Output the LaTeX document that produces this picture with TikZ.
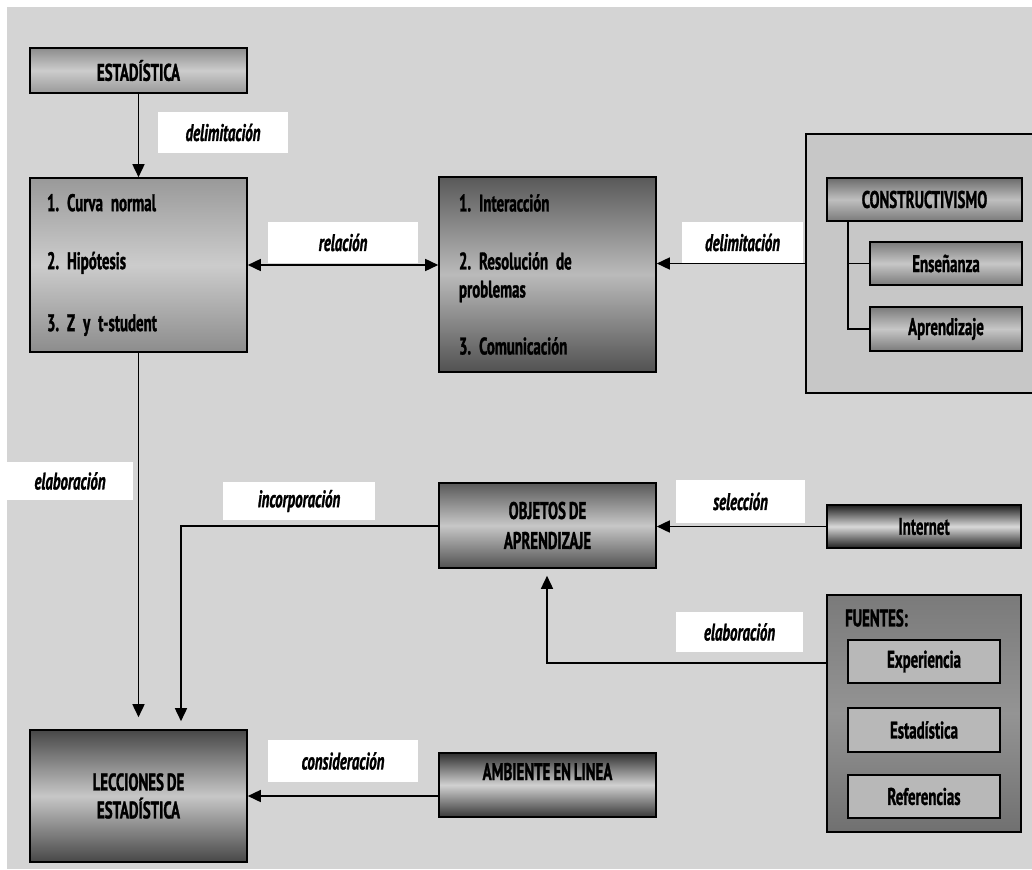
\documentclass[tikz,border=0pt]{standalone}
\usepackage{fontspec}
\newfontfamily\condfont{PT Sans}[FakeStretch=0.62, WordSpace=0.8, BoldFeatures={FakeBold=1.2}, BoldItalicFeatures={FakeBold=1.2}]
\usepackage{tikz}
\usetikzlibrary{shapes,arrows.meta}
\frenchspacing

\begin{document}
\begin{tikzpicture}[x=1pt, y=-1pt,
    txt/.style={font=\condfont\bfseries\fontsize{24}{28}\selectfont},
    lbl/.style={font=\condfont\bfseries\itshape\fontsize{24}{28}\selectfont, fill=white, inner sep=0pt},
    grad/.style n args={3}{top color=#1, bottom color=#3, middle color=#2},
    box/.style={txt, draw=black, line width=1.6pt, inner sep=0pt, align=center},
    conn/.style={line width=1.6pt},
    arr/.style={conn, -{Triangle[length=13pt, width=12pt]}},
    dblarr/.style={conn, {Triangle[length=13pt, width=12pt]}-{Triangle[length=13pt, width=12pt]}}]
  % Sizes
  \pgfmathsetmacro{\boxw}{217}
  \pgfmathsetmacro{\smallw}{152}

  % background
  \useasboundingbox (0,0) rectangle (1032,869);
  \fill[white] (0,0) rectangle (1032,869);
  \fill[black!17] (7,7) rectangle (1032,869);

  % boxes
  \node[box, grad={black!45}{black!20}{black!40}, minimum width=\boxw pt, minimum height=45pt] (estad) at (138.5,70.5) {ESTADÍSTICA};
  \node[box, grad={black!40}{black!20}{black!45}, minimum width=\boxw pt, minimum height=174pt,
        text width=183pt, align=left] (stat) at (138.5,265)
        {1. Curva normal\\[30pt]2. Hipótesis\\[34pt]3. Z y t-student};
  \node[box, grad={black!65}{black!27}{black!68}, minimum width=\boxw pt, minimum height=195pt,
        text width=177pt, align=left] (cons) at (547.5,274.5)
        {1. Interacción\\[30pt]2. Resolución de\\problemas\\[29pt]3. Comunicación};

  \node[draw, line width=1.2pt, fill=black!22, minimum width=230pt, minimum height=259pt, inner sep=0pt] (cpanel) at (921,263.5) {};
  \node[box, grad={black!58}{black!25}{black!52}, minimum width=195pt, minimum height=43pt] (constr) at (924.5,199.5) {CONSTRUCTIVISMO};
  \node[box, grad={black!52}{black!22}{black!52}, minimum width=\smallw pt, minimum height=43pt] (ens) at (946,263.5) {Enseñanza};
  \node[box, grad={black!52}{black!22}{black!52}, minimum width=\smallw pt, minimum height=44pt] (apr) at (946,329) {Aprendizaje};
  \coordinate (tree) at (848,221);

  \node[box, grad={black!65}{black!22}{black!68}, minimum width=\boxw pt, minimum height=85pt] (objs) at (547.5,525.5) {OBJETOS DE\\[2pt]APRENDIZAJE};
  \node[box, grad={black!88}{black!15}{black!88}, minimum width=194pt, minimum height=43pt] (inet) at (924,526.5) {Internet};

  \node[draw, line width=1.6pt, grad={black!52}{black!42}{black!56}, minimum width=194pt, minimum height=237pt, inner sep=0pt] (fpanel) at (924,713.5) {};
  \node[txt, anchor=west, inner sep=0pt] (ftit) at (845,618) {FUENTES:};
  \node[box, fill=black!28, line width=1.4pt, minimum width=\smallw pt, minimum height=43pt] (fexp) at (924,661.5) {Experiencia};
  \node[box, fill=black!28, line width=1.4pt, minimum width=\smallw pt, minimum height=44pt] (fest) at (924,730) {Estadística};
  \node[box, fill=black!28, line width=1.4pt, minimum width=\smallw pt, minimum height=43pt] (fref) at (924,796.5) {Referencias};

  \node[box, grad={black!82}{black!18}{black!78}, minimum width=\boxw pt, minimum height=64pt,
        inner ysep=10pt, text height=17pt, text depth=27pt] (amb) at (547.5,785) {AMBIENTE EN LINEA};
  \node[box, grad={black!72}{black!22}{black!72}, minimum width=\boxw pt, minimum height=132pt] (lecc) at (138.5,796) {LECCIONES DE\\ESTADÍSTICA};

  % connectors
  \coordinate (incp) at (181,526);
  \coordinate (elab) at (547,663);
  \draw[arr] (estad.south) -- (stat.north);
  \draw[dblarr] (stat.east) -- (stat.east -| cons.west);
  \draw[arr] (cpanel.west) -- (cpanel.west -| cons.east);
  \draw[conn] (tree) |- (apr.west);
  \draw[conn] (tree |- ens.west) -- (ens.west);
  \draw[arr, shorten >=12pt] (stat.south) -- (lecc.north);
  \draw[arr, shorten >=8pt] (objs.west |- incp) -- (incp) -- (incp |- lecc.north);
  \draw[arr] (inet.west) -- (inet.west -| objs.east);
  \draw[arr, shorten >=7pt] (fpanel.west |- elab) -- (elab) -- (elab |- objs.south);
  \draw[arr] (lecc.east -| amb.west) -- (lecc.east);

  % labels
  \node[lbl, minimum width=130pt, minimum height=41pt] (ldel) at (223,132.5) {delimitación};
  \node[lbl, minimum width=150pt, minimum height=41pt] (lrel) at (343,242.5) {relación};
  \node[lbl, minimum width=121pt, minimum height=41pt] (ldel2) at (742.5,242.5) {delimitación};
  \node[lbl, minimum width=126pt, minimum height=38pt] (lela) at (70,481) {elaboración};
  \node[lbl, minimum width=152pt, minimum height=38pt] (linc) at (299,501) {incorporación};
  \node[lbl, minimum width=129pt, minimum height=43pt] (lsel) at (740.5,501.5) {selección};
  \node[lbl, minimum width=127pt, minimum height=40pt] (lela2) at (739.5,632) {elaboración};
  \node[lbl, minimum width=150pt, minimum height=42pt] (lcon) at (343,761) {consideración};
\end{tikzpicture}
\end{document}
